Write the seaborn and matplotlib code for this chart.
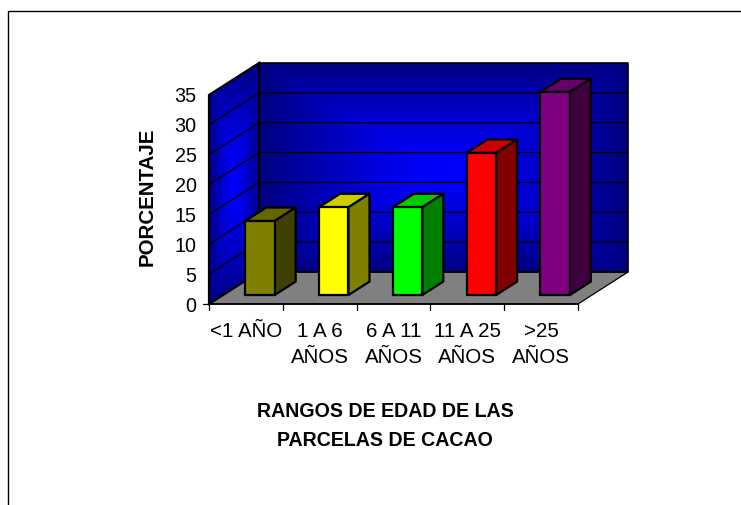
import numpy as np
import pandas as pd
import matplotlib
matplotlib.use("Agg")
import matplotlib.pyplot as plt
from matplotlib.colors import LinearSegmentedColormap
from matplotlib.patches import Polygon
import seaborn as sns

sns.set_style("white")
plt.rcParams["font.family"] = ["Liberation Sans", "DejaVu Sans"]

# data
categories = ["<1 AÑO", "1 A 6\nAÑOS", "6 A 11\nAÑOS", "11 A 25\nAÑOS", ">25\nAÑOS"]
values = [12.4, 14.7, 14.7, 23.8, 34.0]
front_colors = ["#808000", "#FFFF00", "#00FF00", "#FF0000", "#800080"]
top_colors = ["#666600", "#CCCC00", "#00CC00", "#CC0000", "#660066"]
side_colors = ["#404000", "#808000", "#008000", "#800000", "#400040"]
y_ticks = [0, 5, 10, 15, 20, 25, 30, 35]

W, H = 741, 505
DEPTH_X = 0.678      # wall depth, category units
DEPTH_Y = 5.36       # wall depth, value units
BAR_START = 0.28     # where the bars sit in the depth
BAR_DEPTH = 0.42

fig = plt.figure(figsize=(W / 100, H / 100), dpi=100)
ax = fig.add_axes([209 / W, 1 - 304 / H, 369 / W, 209 / H])

df = pd.DataFrame({"rango": categories, "pct": values})


#----------------------------------------------------------------------
# walls and floor
xmin, xmax = -0.5, 4.5
ymin, ymax = 0, 35
cmap = LinearSegmentedColormap.from_list("wall", ["#0000FF", "#000080"])


def wall_image(nx, ny):
    u = np.linspace(-1, 1, nx)
    v = np.linspace(-1, 1, ny)
    uu, vv = np.meshgrid(u, v)
    return np.maximum(np.abs(uu), np.abs(vv)) ** 1.3


ax.imshow(wall_image(300, 200), cmap=cmap, vmin=0, vmax=1, aspect="auto", zorder=1,
          extent=[xmin + DEPTH_X, xmax + DEPTH_X, ymin + DEPTH_Y, ymax + DEPTH_Y], clip_on=False)

side = ax.imshow(wall_image(100, 200), cmap=cmap, vmin=0, vmax=1, aspect="auto", zorder=1,
                 extent=[xmin, xmin + DEPTH_X, ymin, ymax + DEPTH_Y])
side_poly = Polygon([(xmin, ymin), (xmin + DEPTH_X, ymin + DEPTH_Y),
                     (xmin + DEPTH_X, ymax + DEPTH_Y), (xmin, ymax)],
                    transform=ax.transData, fc="none", ec="black", lw=1.6, zorder=3, clip_on=False)
ax.add_patch(side_poly)
# the image is cut to the axes box otherwise
side.set_clip_box(fig.bbox)
side.set_clip_path(side_poly)

ax.add_patch(Polygon([(xmin, ymin), (xmax, ymin), (xmax + DEPTH_X, ymin + DEPTH_Y),
                      (xmin + DEPTH_X, ymin + DEPTH_Y)],
                     fc="#808080", ec="black", lw=0.9, zorder=2, clip_on=False))
ax.plot([xmin + DEPTH_X, xmax + DEPTH_X, xmax + DEPTH_X, xmin + DEPTH_X],
        [ymax + DEPTH_Y, ymax + DEPTH_Y, ymin + DEPTH_Y, ymin + DEPTH_Y],
        color="black", lw=1.2, zorder=2, clip_on=False)

for t in y_ticks[1:-1]:
    ax.plot([xmin, xmin + DEPTH_X, xmax + DEPTH_X],
            [t, t + DEPTH_Y, t + DEPTH_Y], color="black", lw=0.9, zorder=2, clip_on=False)


#----------------------------------------------------------------------
# bars: front faces come from seaborn, the 3D faces follow from them
sns.barplot(data=df, x="rango", y="pct", hue="rango", palette=front_colors, legend=False,
            width=0.4, bottom=BAR_START * DEPTH_Y, edgecolor="black", linewidth=1.6,
            saturation=1, zorder=5, ax=ax)

bars = [b for c in ax.containers for b in c]
for bar, top_c, side_c in zip(bars, top_colors, side_colors):
    bar.set_x(bar.get_x() + BAR_START * DEPTH_X)
    bar.set_clip_on(False)
    x0, x1 = bar.get_x(), bar.get_x() + bar.get_width()
    y0, y1 = bar.get_y(), bar.get_y() + bar.get_height()
    dx, dy = BAR_DEPTH * DEPTH_X, BAR_DEPTH * DEPTH_Y
    ax.add_patch(Polygon([(x0, y1), (x1, y1), (x1 + dx, y1 + dy), (x0 + dx, y1 + dy)],
                         fc=top_c, ec="black", lw=1.6, zorder=4, joinstyle="round", clip_on=False))
    ax.add_patch(Polygon([(x1, y0), (x1 + dx, y0 + dy), (x1 + dx, y1 + dy), (x1, y1)],
                         fc=side_c, ec="black", lw=1.6, zorder=4, joinstyle="round", clip_on=False))


#----------------------------------------------------------------------
ax.set_xlim(xmin, xmax)
ax.set_ylim(ymin, ymax)
ax.set_yticks(y_ticks)
ax.set_xticks(np.arange(len(categories)))
ax.set_xticklabels(categories, fontsize=14.8, linespacing=1.45, color="black", va="top")
ax.tick_params(axis="y", labelsize=14.2, length=0, pad=9, labelcolor="black")
ax.tick_params(axis="x", length=0, pad=13)
for x in np.arange(xmin, xmax + 1):
    ax.plot([x, x], [ymin, -1.0], color="black", lw=0.9, clip_on=False, zorder=6)
ax.plot([xmin, xmin - 0.08], [0, 0], color="black", lw=0.9, clip_on=False, zorder=6)
ax.plot([xmin, xmax], [0, 0], color="black", lw=1.2, clip_on=False, zorder=6)
sns.despine(ax=ax, left=True, bottom=True)
ax.patch.set_visible(False)

ax.set_xlabel("RANGOS DE EDAD DE LAS\nPARCELAS DE CACAO", fontsize=14.1, fontweight="bold",
              color="black", labelpad=25.5, linespacing=1.65, x=0.477)
ax.set_ylabel("PORCENTAJE", fontsize=14.8, fontweight="bold", color="black", labelpad=13, y=0.515)

# outer frame of the pasted chart
fig.add_artist(plt.Line2D([8.4 / W, 8.4 / W, 1], [0, 1 - 11 / H, 1 - 11 / H],
                          color="black", lw=1.0))

fig.savefig("out.png", dpi=100)
